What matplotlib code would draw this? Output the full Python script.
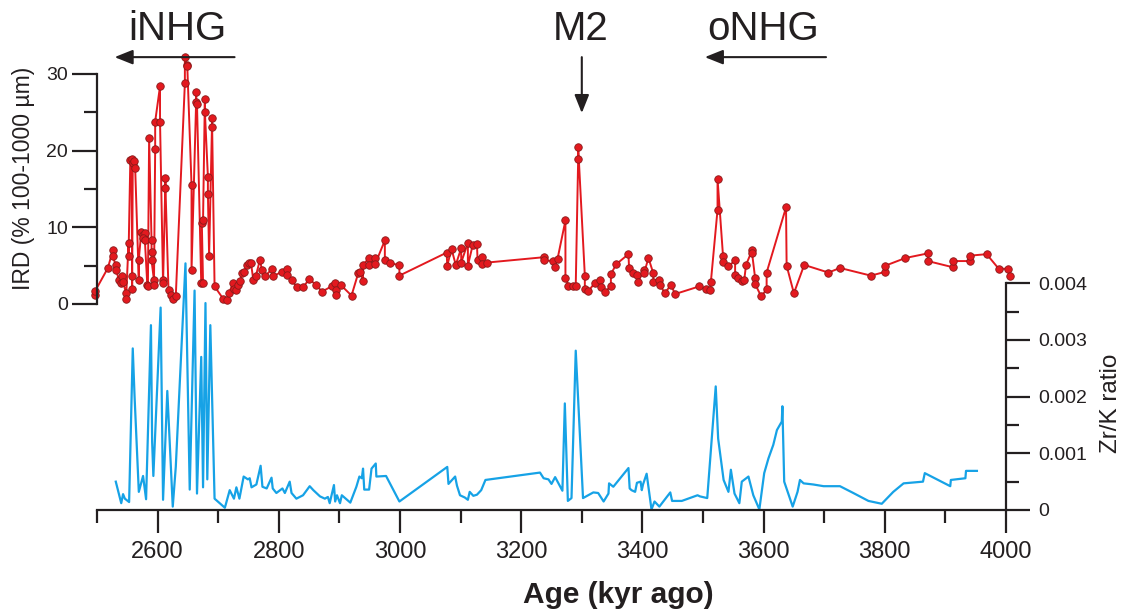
import numpy as np
import matplotlib
matplotlib.use("Agg")
import matplotlib.pyplot as plt
from matplotlib.ticker import MultipleLocator, FuncFormatter

plt.rcParams['font.family'] = ['Liberation Sans', 'DejaVu Sans']

# IRD (% 100-1000 um), red series with markers
ird_age = [2496, 2497, 2518, 2526, 2526, 2531, 2532, 2536, 2539, 2541, 2543, 2548, 2548,
           2552, 2552, 2555, 2557, 2558, 2558, 2559, 2561, 2563, 2569, 2569, 2573, 2576,
           2579, 2576, 2579, 2583, 2584, 2586, 2590, 2590, 2590, 2594, 2594, 2596, 2596,
           2604, 2604, 2609, 2609, 2613, 2613, 2618, 2622, 2625, 2630, 2645, 2645, 2648,
           2649, 2656, 2656, 2664, 2663, 2665, 2672, 2675, 2673, 2675, 2678, 2678, 2683,
           2683, 2685, 2690, 2690, 2694,
           2708, 2714, 2718, 2724, 2726, 2730, 2733, 2736, 2740, 2743, 2747, 2751, 2754,
           2758, 2762, 2769, 2772, 2777, 2788, 2790, 2805, 2813, 2814, 2821, 2830, 2840,
           2850, 2862, 2871, 2887, 2893, 2894, 2894, 2902, 2920, 2931, 2934, 2939, 2939,
           2949, 2949, 2959, 2959, 2975, 2975, 2983, 2999, 2999,
           3077, 3078, 3085, 3092, 3101, 3101, 3112, 3112, 3120, 3127, 3128, 3136, 3136,
           3143, 3237, 3238, 3253, 3255, 3260, 3273, 3273, 3278, 3286, 3290, 3294, 3294,
           3305, 3305, 3311, 3322, 3330, 3331, 3338, 3348, 3348, 3357, 3377, 3378,
           3385, 3391, 3393, 3402, 3403, 3410, 3418, 3418, 3428, 3429, 3437, 3447, 3454,
           3494, 3505, 3512, 3513, 3524, 3524, 3533, 3533, 3542, 3553, 3553, 3558, 3564,
           3568, 3571, 3581, 3581, 3586, 3586, 3596, 3605, 3605, 3637, 3638, 3650, 3667,
           3707, 3726, 3777, 3801, 3801, 3834, 3871, 3871, 3912, 3912, 3940, 3940, 3968,
           3988, 4004, 4006]
ird_val = [1.2, 1.7, 4.7, 7.0, 6.2, 5.1, 4.4, 3.1, 2.7, 3.6, 2.9, 1.4, 0.7,
           7.9, 6.2, 18.8, 18.9, 3.6, 2.0, 18.4, 18.6, 17.7, 3.1, 5.8, 9.4, 9.0,
           9.3, 8.6, 8.3, 2.5, 2.3, 21.7, 8.3, 6.8, 5.7, 3.1, 2.5, 20.2, 23.8,
           28.4, 23.8, 3.1, 2.7, 16.4, 15.1, 1.8, 1.2, 0.6, 1.0, 28.8, 32.2, 31.2,
           31.0, 15.5, 4.4, 27.6, 26.3, 26.1, 2.7, 2.7, 10.5, 11.0, 26.8, 25.1, 16.6,
           14.4, 6.2, 24.2, 23.1, 2.3,
           0.7, 0.5, 1.4, 2.7, 2.0, 1.8, 2.5, 3.0, 4.0, 4.2, 5.1, 5.3, 5.4,
           3.1, 3.6, 5.8, 4.4, 3.6, 4.5, 3.6, 4.2, 4.5, 3.8, 3.1, 2.2, 2.2,
           3.2, 2.5, 1.6, 2.3, 2.7, 1.8, 1.2, 2.5, 1.1, 4.0, 4.2, 3.0, 5.1,
           6.0, 5.1, 6.0, 5.2, 8.3, 5.7, 5.3, 5.1, 3.7,
           6.7, 5.0, 7.2, 5.1, 7.3, 5.4, 8.0, 5.0, 7.7, 7.8, 5.7, 6.1, 5.2,
           5.4, 6.1, 5.7, 5.6, 4.8, 5.9, 10.9, 3.4, 2.4, 2.4, 2.4, 18.9, 20.5,
           3.7, 1.9, 1.7, 2.8, 3.1, 2.2, 1.6, 2.3, 3.9, 5.2, 6.5, 4.7,
           4.0, 3.8, 2.9, 4.4, 4.1, 6.0, 4.0, 2.9, 3.1, 2.5, 1.4, 2.5, 1.3,
           2.3, 1.9, 1.8, 2.9, 12.3, 16.3, 6.3, 5.5, 4.9, 5.7, 3.8, 3.4, 3.0,
           3.1, 5.1, 7.0, 6.6, 3.4, 2.6, 1.0, 1.9, 4.1, 12.6, 5.0, 1.4, 5.1,
           4.1, 4.7, 3.7, 4.2, 5.0, 6.0, 6.6, 5.6, 4.8, 5.6, 5.6, 6.3, 6.5,
           4.6, 4.6, 3.7]

# Zr/K ratio (x 0.001), blue line
zrk_age = [2531, 2540, 2543, 2546, 2553, 2559, 2562, 2569, 2576, 2581, 2589, 2591, 2593,
           2605, 2609, 2616, 2625, 2630, 2646, 2653, 2661, 2665, 2672, 2675, 2679, 2682,
           2687, 2694, 2711, 2719, 2726, 2730, 2735, 2742, 2749, 2752, 2755, 2763, 2766,
           2770, 2773, 2780, 2788, 2790, 2796, 2806, 2810, 2818, 2821, 2829, 2840, 2851,
           2857, 2868, 2876, 2881, 2884, 2891, 2893, 2896, 2901, 2904, 2918, 2928, 2933,
           2937, 2939, 2941, 2949, 2953, 2960, 2961, 2977, 2999, 3078, 3080, 3091, 3094,
           3099, 3107, 3112, 3115, 3121, 3127, 3134, 3141, 3231, 3237, 3245, 3250, 3256,
           3268, 3272, 3277, 3283, 3290, 3302, 3319, 3327, 3336, 3344, 3345, 3352, 3377,
           3379, 3382, 3388, 3391, 3397, 3399, 3401, 3407, 3415, 3420, 3428, 3446, 3449,
           3465, 3491, 3495, 3507, 3521, 3525, 3534, 3542, 3546, 3552, 3560, 3564, 3575,
           3583, 3593, 3601, 3608, 3616, 3622, 3630, 3631, 3634, 3648, 3656, 3660, 3666,
           3682, 3699, 3726, 3748, 3773, 3795, 3814, 3831, 3863, 3866, 3908, 3909, 3933,
           3934, 3952]
zrk_milli = [0.50, 0.12, 0.28, 0.20, 0.14, 2.85, 2.00, 0.32, 0.60, 0.19, 3.26, 1.20, 0.60,
             3.57, 0.18, 2.10, 0.06, 0.76, 4.35, 0.36, 3.87, 0.29, 2.70, 0.40, 3.65, 0.54,
             3.26, 0.20, 0.04, 0.35, 0.20, 0.40, 0.20, 0.59, 0.54, 0.56, 0.40, 0.45, 0.59,
             0.78, 0.41, 0.38, 0.57, 0.38, 0.30, 0.38, 0.30, 0.50, 0.30, 0.20, 0.26, 0.42,
             0.35, 0.24, 0.20, 0.23, 0.12, 0.44, 0.15, 0.26, 0.12, 0.26, 0.13, 0.41, 0.59,
             0.56, 0.73, 0.36, 0.36, 0.73, 0.82, 0.59, 0.60, 0.15, 0.76, 0.46, 0.59, 0.43,
             0.26, 0.22, 0.18, 0.32, 0.25, 0.27, 0.35, 0.53, 0.66, 0.56, 0.54, 0.46, 0.58,
             0.34, 1.88, 0.16, 0.21, 2.81, 0.21, 0.31, 0.30, 0.15, 0.29, 0.47, 0.41, 0.74,
             0.38, 0.35, 0.32, 0.48, 0.50, 0.35, 0.45, 0.64, 0.01, 0.15, 0.06, 0.31, 0.16,
             0.16, 0.26, 0.24, 0.21, 2.18, 1.26, 0.53, 0.32, 0.71, 0.29, 0.12, 0.50, 0.59,
             0.26, 0.01, 0.65, 0.91, 1.15, 1.41, 1.56, 1.83, 0.50, 0.06, 0.32, 0.53, 0.47,
             0.45, 0.42, 0.42, 0.30, 0.16, 0.11, 0.32, 0.47, 0.50, 0.65, 0.42, 0.53, 0.56,
             0.69, 0.69]

ird_ticks = [0, 10, 20, 30]
zrk_ticks = [0, 0.001, 0.002, 0.003, 0.004]

ink = '#231f20'
red = '#e3191f'
blue = '#16a2e6'

W, H = 1126, 610
fig = plt.figure(figsize=(W / 100, H / 100), dpi=100)
ax = fig.add_axes([97 / W, 1 - 510 / H, (1006 - 97) / W, 460 / H])
ax2 = ax.twinx()

# blue Zr/K
ax2.plot(zrk_age, np.array(zrk_milli) / 1000, color=blue, lw=1.6, clip_on=False)
ax2.set_ylim(0, 0.008113)

# red IRD
ax.plot(ird_age, ird_val, color=red, lw=1.4, marker='o', ms=5.4,
        mfc=red, mec='#8a1a1a', mew=0.6, clip_on=False)
ax.set_ylim(-26.87, 33.13)
ax.set_xlim(2500, 4000)
ax.set_zorder(ax2.get_zorder() + 1)
ax.patch.set_visible(False)

for a in (ax, ax2):
    for s in a.spines.values():
        s.set_visible(False)
        s.set_linewidth(1.6)
        s.set_color(ink)
ax.spines['left'].set_visible(True)
ax.spines['left'].set_bounds(0, 30)
ax.spines['bottom'].set_visible(True)
ax2.spines['right'].set_visible(True)
ax2.spines['right'].set_bounds(0, 0.004)

ax.set_yticks(ird_ticks)
ax.yaxis.set_minor_locator(plt.FixedLocator([5, 15, 25]))
ax2.set_yticks(zrk_ticks)
ax2.yaxis.set_minor_locator(plt.FixedLocator([0.0005, 0.0015, 0.0025, 0.0035]))
ax2.yaxis.set_major_formatter(FuncFormatter(lambda v, p: '0' if v == 0 else f'{v:.3f}'))
ax.xaxis.set_major_locator(MultipleLocator(200))
ax.xaxis.set_minor_locator(MultipleLocator(100))

ax.tick_params(axis='x', which='major', length=16.5, width=1.6, color=ink,
               labelsize=17, labelcolor=ink, pad=6)
ax.tick_params(axis='x', which='minor', length=9.4, width=1.6, color=ink)
ax.tick_params(axis='y', which='major', length=18, width=1.6, color=ink,
               labelsize=14, labelcolor=ink, pad=3)
ax.tick_params(axis='y', which='minor', length=9.4, width=1.6, color=ink)
ax2.tick_params(axis='y', which='major', length=17, width=1.6, color=ink,
                labelsize=14, labelcolor=ink, pad=6)
ax2.tick_params(axis='y', which='minor', length=9, width=1.6, color=ink)

# axis titles
fig.text(24 / W, 1 - 178 / H, 'IRD (% 100-1000 µm)', rotation=90, ha='center',
         va='center', fontsize=16.5, color=ink)
fig.text(1111 / W, 1 - 403 / H, 'Zr/K ratio', rotation=90, ha='center',
         va='center', fontsize=17.5, color=ink)
fig.text(618 / W, 1 - 603 / H, 'Age (kyr ago)', ha='center', va='baseline',
         fontsize=21.5, fontweight='bold', color=ink)

# event labels and arrows
for label, xc in [('iNHG', 177), ('M2', 581), ('oNHG', 763)]:
    fig.text(xc / W, 1 - 40 / H, label, ha='center', va='baseline',
             fontsize=29, color=ink)

arrow = dict(arrowstyle='-|>,head_length=0.55,head_width=0.22', lw=1.5,
             color=ink, mutation_scale=20, shrinkA=0, shrinkB=0)
ax.annotate('', xy=(2529, 32.2), xytext=(2727, 32.2), arrowprops=arrow,
            annotation_clip=False)
ax.annotate('', xy=(3300, 24.9), xytext=(3300, 32.2), arrowprops=arrow,
            annotation_clip=False)
ax.annotate('', xy=(3503, 32.2), xytext=(3703, 32.2), arrowprops=arrow,
            annotation_clip=False)

fig.savefig('out.png', dpi=100)
